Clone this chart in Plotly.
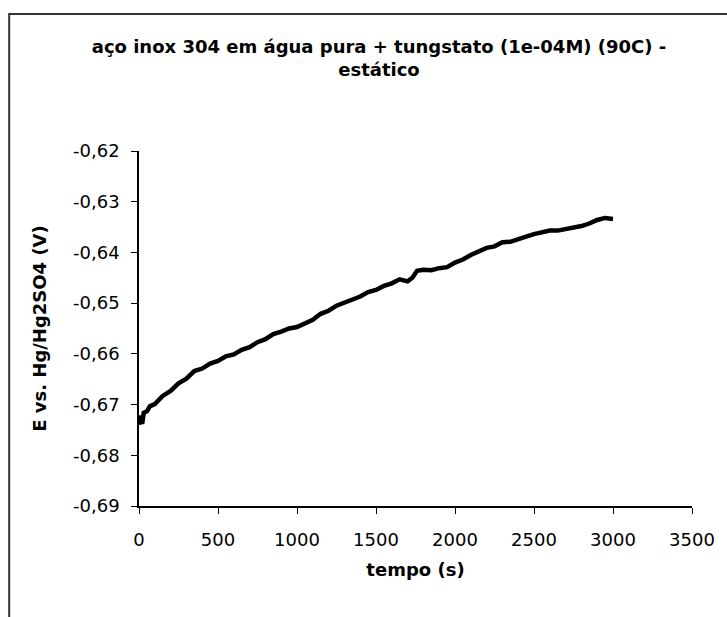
import plotly.graph_objects as go

# time (s)
tempo = [0, 10, 20, 30, 50, 70, 100, 150, 200, 250, 300, 350, 400, 450, 500,
         550, 600, 650, 700, 750, 800, 850, 900, 950, 1000, 1050, 1100, 1150,
         1200, 1250, 1300, 1350, 1400, 1450, 1500, 1550, 1600, 1650, 1700,
         1730, 1760, 1800, 1850, 1900, 1950, 2000, 2050, 2100, 2150, 2200,
         2250, 2300, 2350, 2400, 2450, 2500, 2550, 2600, 2650, 2700, 2750,
         2800, 2850, 2900, 2950, 3000]
# potential E vs. Hg/Hg2SO4 (V)
potencial = [-0.6740, -0.6722, -0.6738, -0.6716, -0.6713, -0.6703, -0.6699,
             -0.6683, -0.6673, -0.6658, -0.6649, -0.6634, -0.6629, -0.6619,
             -0.6614, -0.6605, -0.6601, -0.6592, -0.6587, -0.6577, -0.6571,
             -0.6561, -0.6556, -0.6550, -0.6547, -0.6539, -0.6533, -0.6521,
             -0.6515, -0.6505, -0.6499, -0.6491, -0.6487, -0.6478, -0.6474,
             -0.6466, -0.6461, -0.6453, -0.6457, -0.6450, -0.6436, -0.6434,
             -0.6435, -0.6431, -0.6429, -0.6420, -0.6414, -0.6405, -0.6399,
             -0.6391, -0.6388, -0.6380, -0.6379, -0.6373, -0.6369, -0.6364,
             -0.6361, -0.6357, -0.6357, -0.6354, -0.6353, -0.6348, -0.6343,
             -0.6336, -0.6332, -0.6334]

x_ticks = [0, 500, 1000, 1500, 2000, 2500, 3000, 3500]
x_labels = ["0", "500", "1000", "1500", "2000", "2500", "3000", "3500"]
y_ticks = [-0.69, -0.68, -0.67, -0.66, -0.65, -0.64, -0.63, -0.62]
y_labels = ["-0,69", "-0,68", "-0,67", "-0,66", "-0,65", "-0,64", "-0,63", "-0,62"]

titulo = "aço inox 304 em água pura + tungstato (1e-04M) (90C) -<br>estático"

FONT = "DejaVu Sans"

fig = go.Figure()
fig.add_trace(go.Scatter(x=tempo, y=potencial, mode="lines",
                         line=dict(color="black", width=4.5), showlegend=False))

W, H = 727, 617
L, R, T, B = 139, 30, 151, 111
pw, ph = W - L - R, H - T - B

def px2paper_x(px):
    return (px - L) / pw

def px2paper_y(py):
    return (H - B - py) / ph

fig.update_layout(
    width=W, height=H,
    margin=dict(l=L, r=R, t=T, b=B, pad=0),
    paper_bgcolor="white", plot_bgcolor="white",
    font=dict(family=FONT, color="black"),
    title=dict(text=titulo, x=379 / W, xref="container", xanchor="center",
               y=1 - 53 / H, yref="container", yanchor="top",
               font=dict(family=FONT, size=18, color="black", weight="bold")),
    xaxis=dict(range=[0, 3500], tickvals=x_ticks, ticktext=x_labels,
               showgrid=False, zeroline=False, showline=True,
               linecolor="black", linewidth=1.5, ticks="outside",
               ticklen=6, tickwidth=1.2, tickcolor="black",
               tickfont=dict(size=18), ticklabelstandoff=11,
               title=dict(text="tempo (s)", standoff=14,
                          font=dict(size=18, weight="bold"))),
    yaxis=dict(range=[-0.69, -0.62], tickvals=y_ticks, ticktext=y_labels,
               showgrid=False, zeroline=False, showline=True,
               linecolor="black", linewidth=1.5, ticks="outside",
               ticklen=6, tickwidth=1.2, tickcolor="black",
               tickfont=dict(size=18), ticklabelstandoff=8,
               title=dict(text="E vs. Hg/Hg2SO4 (V)", standoff=22,
                          font=dict(size=18, weight="bold"))),
    shapes=[
        dict(type="rect", xref="paper", yref="paper", layer="below",
             x0=px2paper_x(8), x1=px2paper_x(W + 10),
             y0=px2paper_y(H + 10), y1=px2paper_y(14),
             line=dict(color="#333333", width=2), fillcolor="rgba(0,0,0,0)"),
    ],
)

fig.write_html("out.html",
               config={"displayModeBar": False},
               post_script="document.body.style.margin='0';"
                           "document.body.style.overflow='hidden';")
